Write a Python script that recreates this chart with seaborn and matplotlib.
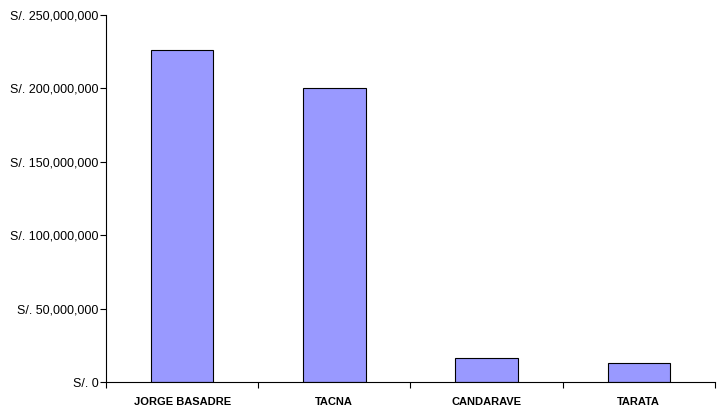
import numpy as np
import pandas as pd
import seaborn as sns
import matplotlib.pyplot as plt
from matplotlib.ticker import FuncFormatter

provincias = ["JORGE BASADRE", "TACNA", "CANDARAVE", "TARATA"]
montos = [226_000_000, 200_300_000, 16_300_000, 12_900_000]

df = pd.DataFrame({"provincia": provincias, "monto": montos})

sns.set_style("white")
plt.rcParams["font.family"] = ["Liberation Sans", "DejaVu Sans"]

fig = plt.figure(figsize=(7.18, 4.08), dpi=100)
ax = fig.add_axes([0.1476, 0.0637, 0.848, 0.8995])

sns.barplot(data=df, x="provincia", y="monto", color="#9999FF",
            saturation=1, width=0.41, edgecolor="black", linewidth=0.8, ax=ax)

ax.set_ylim(0, 250_000_000)
ax.set_xlim(-0.5, len(provincias) - 0.5)
ax.set_yticks(np.arange(0, 250_000_001, 50_000_000))
ax.yaxis.set_major_formatter(FuncFormatter(lambda v, p: "S/. {:,.0f}".format(v)))
ax.tick_params(axis="y", length=4, width=0.8, labelsize=9, pad=1.5, left=True,
               color="black", labelcolor="black")

# separador entre categorias (major) y nombres en minor
ax.set_xticks(np.arange(-0.5, len(provincias), 1))
ax.set_xticklabels([])
ax.set_xticks(np.arange(len(provincias)), minor=True)
ax.set_xticklabels(provincias, minor=True)
ax.tick_params(axis="x", which="minor", length=0, pad=11, labelsize=8,
               labelcolor="black")
ax.tick_params(axis="x", which="major", length=4, width=0.8, bottom=True,
               color="black")
for t in ax.get_xticklabels(minor=True):
    t.set_fontweight("bold")

ax.set_xlabel("")
ax.set_ylabel("")
sns.despine(ax=ax)
for s in ["left", "bottom"]:
    ax.spines[s].set_color("black")
    ax.spines[s].set_linewidth(0.8)

fig.savefig("out.png", dpi=100)
